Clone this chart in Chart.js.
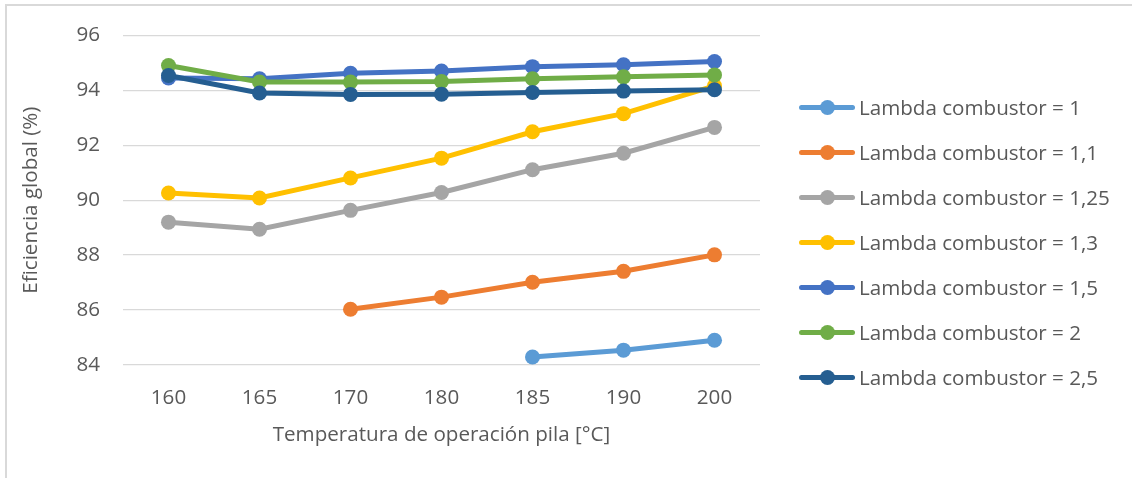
<!DOCTYPE html>
<html>
<head>
<meta charset="utf-8">
<title>Eficiencia global</title>
<script src="https://cdn.jsdelivr.net/npm/chart.js@4.4.1/dist/chart.umd.min.js"></script>
<style>
  html, body { margin: 0; padding: 0; background: #fff; }
  #wrap { position: relative; width: 1132px; height: 478px; overflow: hidden; }
  #frame { position: absolute; left: 5px; top: 4px; width: 1300px; height: 700px;
           border-top: 2px solid #d9d9d9; border-left: 2px solid #d9d9d9; }
  #chart { position: absolute; left: 0; top: 0; }
  #legend { position: absolute; left: 799px; top: 0; font: 20.6px "Open Sans"; color: #595959; }
  .item { position: absolute; left: 0; height: 24px; white-space: nowrap; display: flex; align-items: center; }
  .sw { position: relative; width: 56px; height: 24px; flex: none; }
  .sw .ln { position: absolute; left: 0; right: 0; top: 9.5px; height: 5px; border-radius: 2.5px; }
  .sw .pt { position: absolute; left: 20.5px; top: 4.5px; width: 15px; height: 15px; border-radius: 50%; }
  .item span { margin-left: 4px; }
</style>
</head>
<body>
<div id="wrap">
  <div id="frame"></div>
  <canvas id="chart" width="1132" height="478"></canvas>
  <div id="legend"></div>
</div>
<script>
// Temperatura de la pila (categorías del eje X)
const temperaturas = ["160", "165", "170", "180", "185", "190", "200"];

// Eficiencia global (%) por lambda del combustor
const lambda1   = [null, null, null, null, 84.29, 84.54, 84.90];
const lambda1_1 = [null, null, 86.03, 86.47, 87.01, 87.41, 88.01];
const lambda1_25 = [89.20, 88.94, 89.63, 90.28, 91.11, 91.71, 92.65];
const lambda1_3 = [90.26, 90.08, 90.81, 91.53, 92.49, 93.15, 94.16];
const lambda1_5 = [94.45, 94.42, 94.62, 94.70, 94.86, 94.93, 95.05];
const lambda2   = [94.90, 94.30, 94.30, 94.32, 94.42, 94.49, 94.56];
const lambda2_5 = [94.54, 93.90, 93.85, 93.86, 93.92, 93.97, 94.02];

const etiquetas = [
  "Lambda combustor = 1",
  "Lambda combustor = 1,1",
  "Lambda combustor = 1,25",
  "Lambda combustor = 1,3",
  "Lambda combustor = 1,5",
  "Lambda combustor = 2",
  "Lambda combustor = 2,5",
];
const colores = ["#5B9BD5", "#ED7D31", "#A5A5A5", "#FFC000", "#4472C4", "#70AD47", "#255E91"];
const series = [lambda1, lambda1_1, lambda1_25, lambda1_3, lambda1_5, lambda2, lambda2_5];

const YMIN = 84, YMAX = 96, YSTEP = 2;

const TXT = "#595959";
Chart.defaults.font.family = "'Open Sans'";
Chart.defaults.font.size = 20.6;
Chart.defaults.color = TXT;

const datasets = series.map((d, i) => ({
  label: etiquetas[i],
  data: d,
  borderColor: colores[i],
  backgroundColor: colores[i],
  borderWidth: 5,
  pointRadius: 7.5,
  pointBorderWidth: 0,
  pointHoverRadius: 7.5,
  tension: 0,
  // la última serie queda encima (como en Excel)
  order: series.length - i,
}));

new Chart(document.getElementById("chart"), {
  type: "line",
  data: { labels: temperaturas, datasets },
  options: {
    responsive: false,
    animation: false,
    events: [],
    layout: { padding: { left: 0, right: 372, top: 33, bottom: 0 } },
    plugins: { legend: { display: false }, tooltip: { enabled: false } },
    scales: {
      x: {
        offset: true,
        grid: { display: false },
        border: { display: false },
        ticks: { padding: 13, maxRotation: 0 },
        title: { display: true, text: "Temperatura de operación pila [°C]", padding: { top: 0, bottom: 31 } },
        afterFit: s => { s.height = 113; },
      },
      y: {
        min: YMIN, max: YMAX,
        grid: { color: "#d9d9d9", lineWidth: 1.3, drawTicks: false },
        border: { display: false },
        ticks: { stepSize: YSTEP, padding: 23 },
        title: { display: true, text: "Eficiencia global (%)", padding: { top: 19, bottom: 0 } },
        afterFit: s => { s.width = 123; },
      },
    },
  },
});

// leyenda a la derecha
const leg = document.getElementById("legend");
const yLeyenda = [107, 152, 197, 242, 287, 332, 377];
etiquetas.forEach((t, i) => {
  const it = document.createElement("div");
  it.className = "item";
  it.style.top = (yLeyenda[i] - 12) + "px";
  it.innerHTML = `<div class="sw"><div class="ln" style="background:${colores[i]}"></div>` +
    `<div class="pt" style="background:${colores[i]}"></div></div><span>${t}</span>`;
  leg.appendChild(it);
});
</script>
</body>
</html>
